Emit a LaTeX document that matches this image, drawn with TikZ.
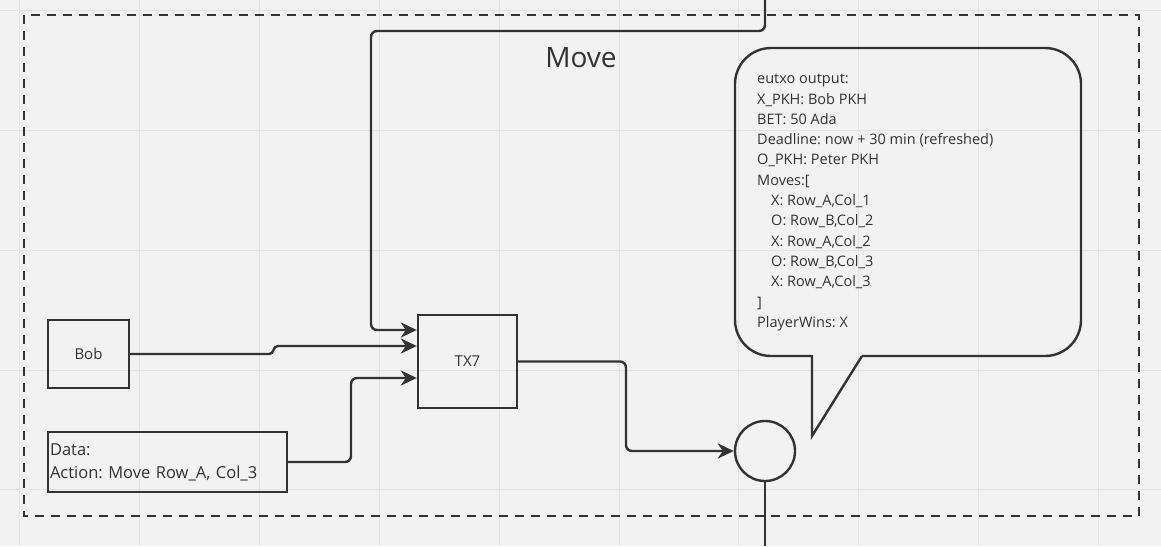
\documentclass[tikz,border=0pt]{standalone}
\usepackage{fontspec}
\setmainfont{Open Sans}
\usepackage{tikz}
\usetikzlibrary{arrows.meta}
\usetikzlibrary{calc}
\definecolor{ink}{HTML}{333333}
\definecolor{paper}{HTML}{F2F2F2}
\definecolor{gridc}{HTML}{E3E3E3}
\frenchspacing

\begin{document}
\begin{tikzpicture}[x=1pt, y=-1pt, every node/.style={inner sep=2pt, text=ink, font=\fontsize{15}{20.3}\selectfont},
  box/.style={draw=ink, line width=2.4pt, shape=rectangle},
  conn/.style={draw=ink, line width=2.4pt, rounded corners=6pt, -{Stealth[length=16pt, width=15pt, inset=5pt]}}]
\useasboundingbox (0,0) rectangle (1161,546);
\fill[paper] (0,0) rectangle (1161,546);
\foreach \x in {19,139,259,379,499,619,738,858,978,1098}
  \draw[gridc, line width=1pt] (\x,0) -- (\x,546);
\foreach \y in {10,130,250,370,489}
  \draw[gridc, line width=1pt] (0,\y) -- (1161,\y);
% frame
\draw[ink, line width=2.4pt, dash pattern=on 9pt off 7pt] (24,15) rectangle (1139,516);
\node (title) at (581,58) {\fontsize{28}{30}\selectfont Move};
% boxes
\node (bob) [box, minimum width=81, minimum height=68] at (88.5,354) {Bob};
\node (data) [box, minimum width=239, minimum height=60, text width=235, align=left, inner sep=2pt, font=\fontsize{16.5}{23}\selectfont] at (167.5,462) {Data:\\Action: Move Row\_A, Col\_3};
\node (tx7) [box, minimum width=99, minimum height=93] at (467.5,361.5) {TX7};
\node (utxo) [draw=ink, line width=2.4pt, shape=circle, minimum size=60] at (765,451) {};
% callout
\draw[ink, line width=2.4pt, rounded corners=36pt]
  (812,356) -- (735,356) -- (735,48) -- (1081,48) -- (1081,356) -- (862,356);
\draw[ink, line width=2.4pt, line join=miter] (812,355) -- (812,436) -- (862,356);
\node (out) [anchor=north west, align=left, inner sep=0pt, font=\fontsize{14.5}{20.3}\selectfont] at (757,74) {eutxo output:\\X\_PKH: Bob PKH\\BET: 50 Ada\\Deadline: now + 30 min (refreshed)\\O\_PKH: Peter PKH\\Moves:[\\\hspace*{14pt}X: Row\_A,Col\_1\\\hspace*{14pt}O: Row\_B,Col\_2\\\hspace*{14pt}X: Row\_A,Col\_2\\\hspace*{14pt}O: Row\_B,Col\_3\\\hspace*{14pt}X: Row\_A,Col\_3\\]\\PlayerWins: X};
% connectors
\coordinate (top) at (765,0);
\coordinate (bottom) at (765,546);
\draw[conn] (top) -- (765,31) -- (371,31) -- (371,330) -- ([yshift=31.5pt]tx7.west);
\draw[conn, rounded corners=4pt] (bob.east) -- (273,354) -- (274,346) -- ([yshift=15.5pt]tx7.west);
\draw[conn] (data.east) -- (351,462) -- (351,378) -- ([yshift=-16.5pt]tx7.west);
\draw[conn] (tx7.east) -- (626,361.5) -- (626,451) -- (utxo.west);
\draw[ink, line width=2.4pt] (utxo.south) -- (bottom);
\end{tikzpicture}
\end{document}
